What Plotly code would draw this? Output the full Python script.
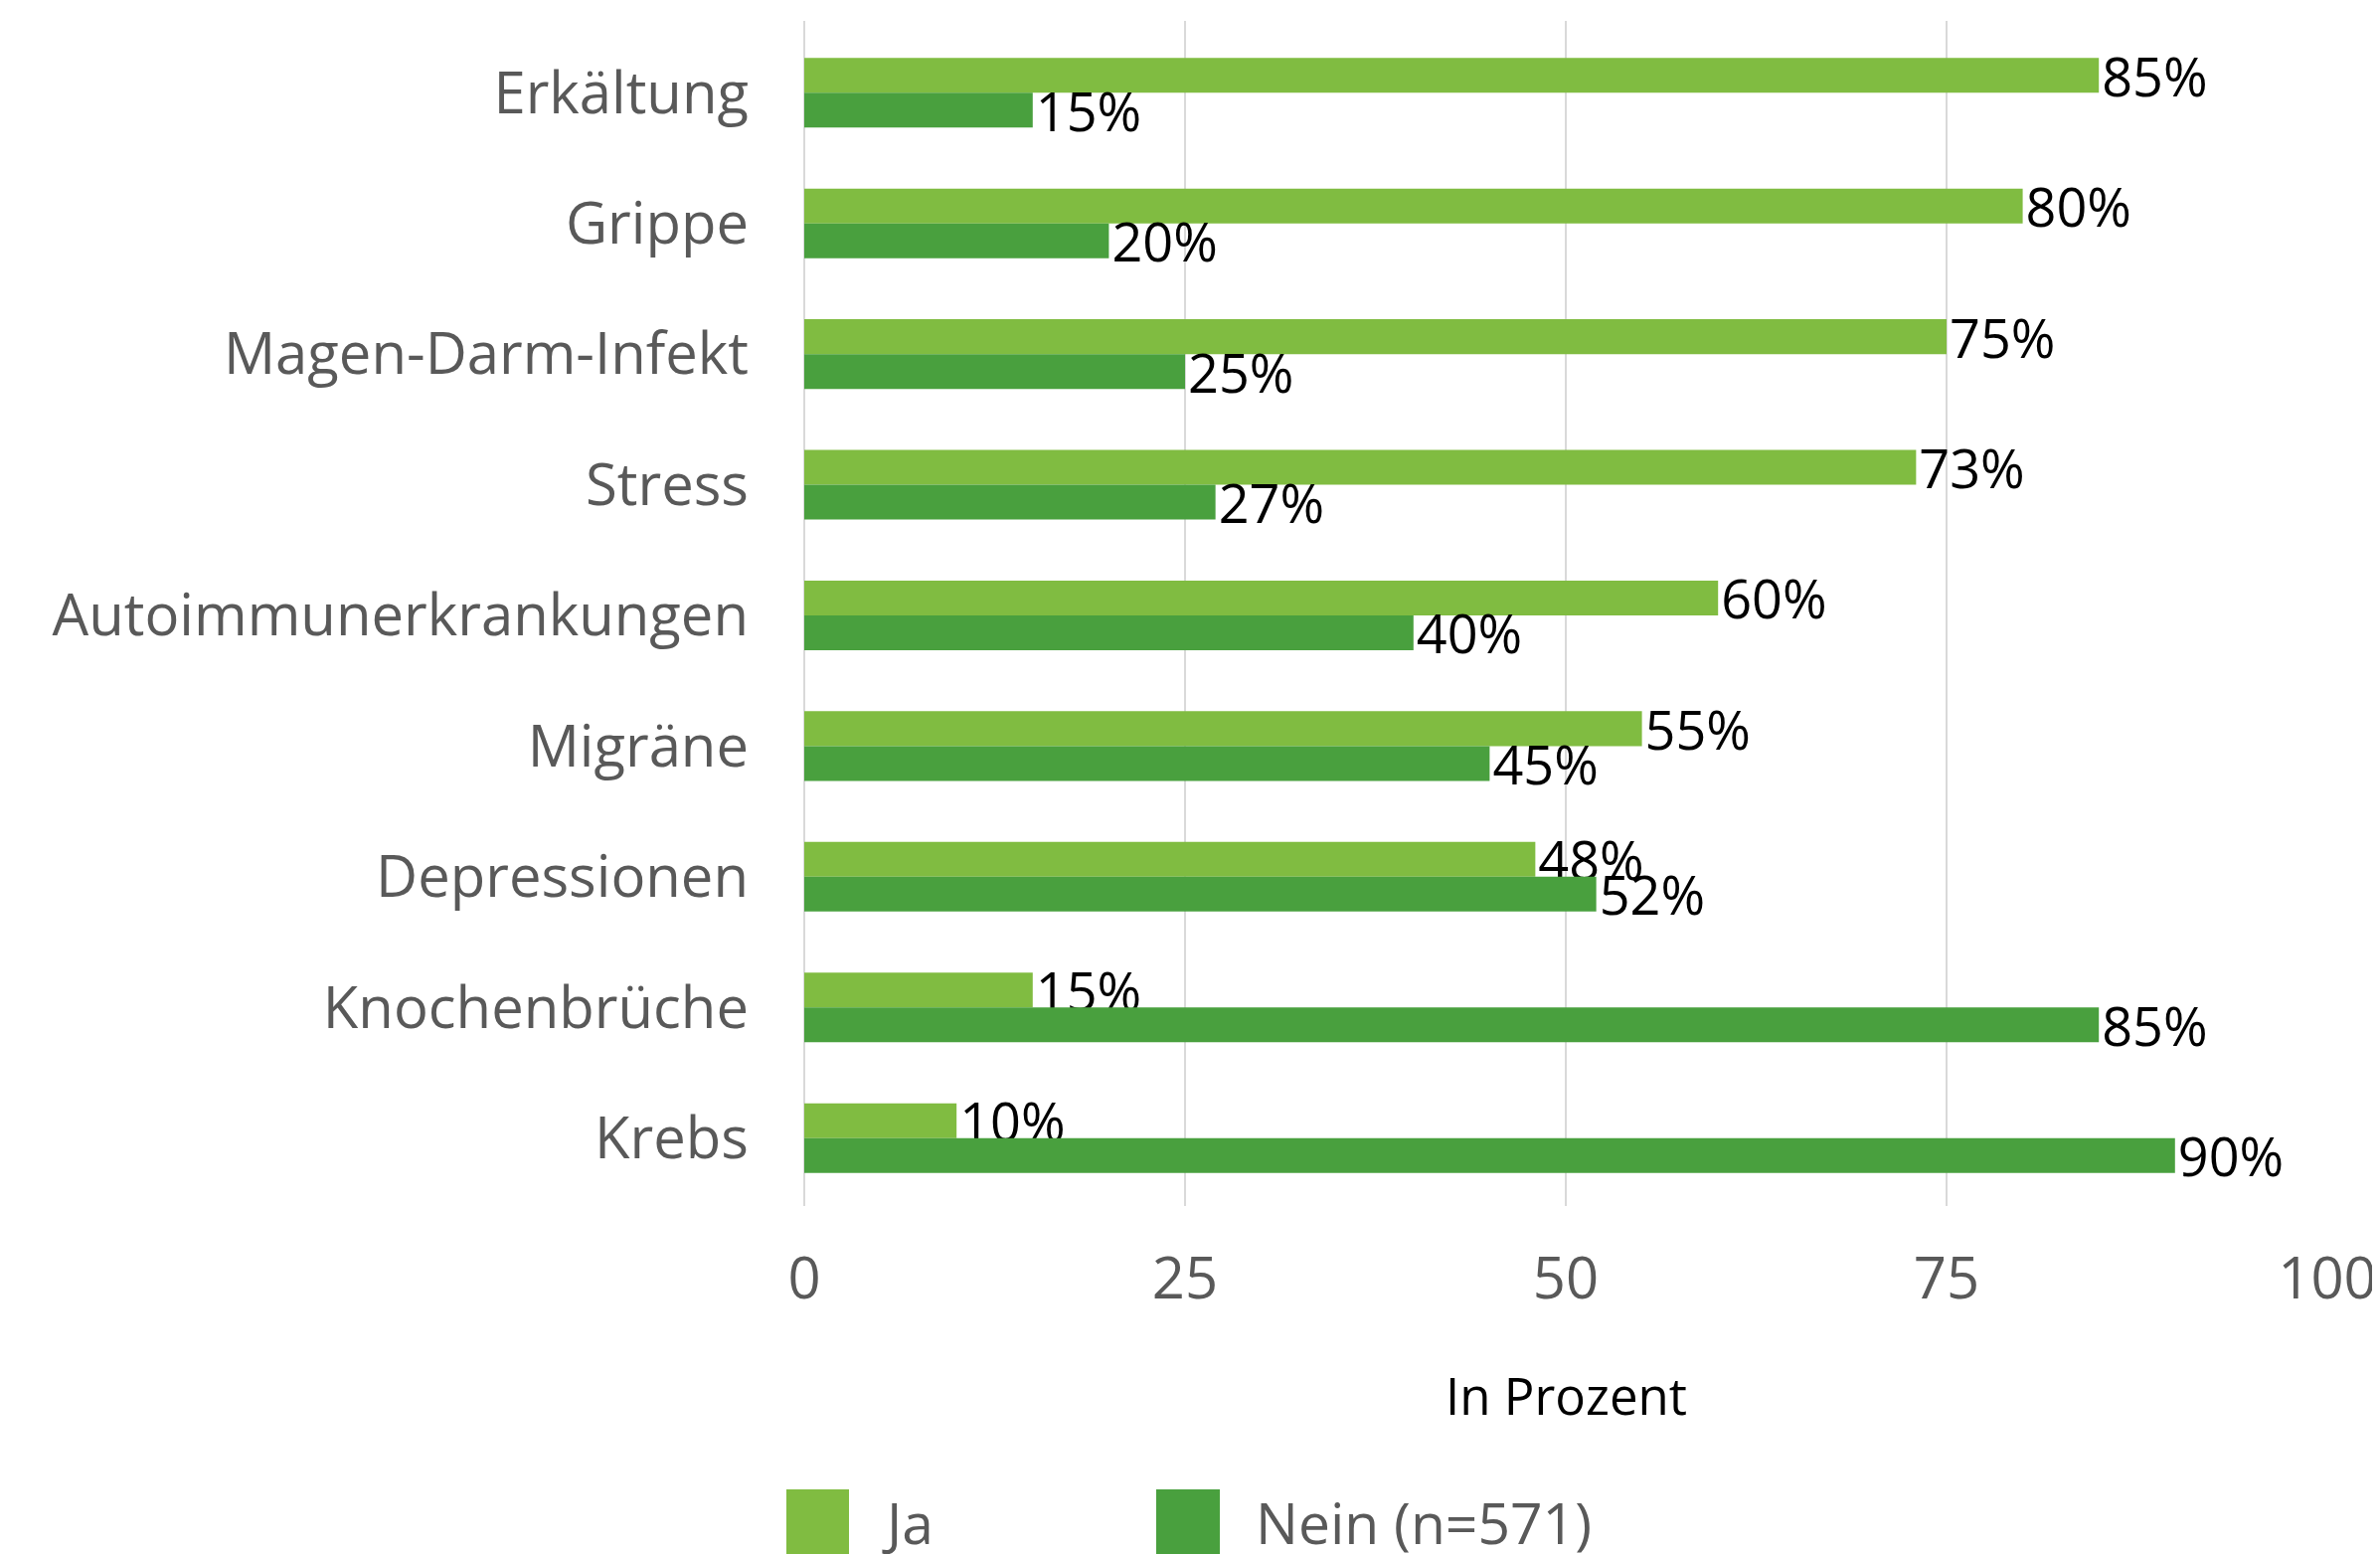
import plotly.graph_objects as go

categories = ["Erkältung", "Grippe", "Magen-Darm-Infekt", "Stress",
              "Autoimmunerkrankungen", "Migräne", "Depressionen",
              "Knochenbrüche", "Krebs"]
ja_values = [85, 80, 75, 73, 60, 55, 48, 15, 10]
nein_values = [15, 20, 25, 27, 40, 45, 52, 85, 90]
series_names = ["Ja", "Nein (n=571)"]
x_ticks = [0, 25, 50, 75, 100]

COL_JA = "#80BC41"
COL_NEIN = "#49A03E"
GREY = "#595959"
FONT = "Open Sans"

# page has an 8px body margin; work in page pixels and convert
OFF = 8
PAGE_W, PAGE_H = 2394, 1563
W, H = PAGE_W - OFF, PAGE_H - OFF
PLOT_X0, PLOT_X1 = 809, 2341   # page px
PLOT_Y0, PLOT_Y1 = 21, 1213    # page px
L = PLOT_X0 - OFF
T = PLOT_Y0 - OFF
R = PAGE_W - PLOT_X1
B = PAGE_H - PLOT_Y1
PW, PH = PLOT_X1 - PLOT_X0, PLOT_Y1 - PLOT_Y0

fig = go.Figure()
for name, vals, col in [(series_names[0], ja_values, COL_JA),
                        (series_names[1], nein_values, COL_NEIN)]:
    fig.add_trace(go.Bar(
        y=categories, x=vals, orientation="h", name=name,
        marker=dict(color=col, line=dict(width=0)),
        texttemplate="%{x}%", textposition="outside",
        textfont=dict(family=FONT, size=54, color="#000000"),
        constraintext="none", cliponaxis=False, showlegend=False,
    ))

def px_x(p):
    return (p - PLOT_X0) / PW

def px_y(p):
    return (PLOT_Y1 - p) / PH

# manual legend
legend_items = [(series_names[0], COL_JA, 791, 854, 885),
                (series_names[1], COL_NEIN, 1163, 1227, 1261)]
for name, col, x0, x1, tx in legend_items:
    fig.add_shape(type="rect", xref="paper", yref="paper",
                  x0=px_x(x0), x1=px_x(x1), y0=px_y(1498), y1=px_y(1600),
                  fillcolor=col, line=dict(width=0), layer="above")
    fig.add_annotation(xref="paper", yref="paper", x=px_x(tx), y=px_y(1531),
                       text=name, showarrow=False, xanchor="left", yanchor="middle",
                       font=dict(family=FONT, size=57, color=GREY))

fig.add_annotation(xref="paper", yref="paper", x=px_x(1575), y=px_y(1403),
                   text="In Prozent", showarrow=False, xanchor="center", yanchor="middle",
                   font=dict(family=FONT, size=51, color="#000000"))

fig.update_layout(
    width=W, height=H,
    margin=dict(l=L, r=R, t=T, b=B, pad=0, autoexpand=False),
    paper_bgcolor="white", plot_bgcolor="white",
    barmode="group", bargap=0.467, bargroupgap=0,
    font=dict(family=FONT, color=GREY),
)
fig.update_xaxes(range=[0, 100], tickvals=x_ticks, ticktext=[str(v) for v in x_ticks],
                 automargin=False,
                 showgrid=True, gridcolor="#D9D9D9", gridwidth=2,
                 zeroline=True, zerolinecolor="#D9D9D9", zerolinewidth=2,
                 showline=False, ticks="", ticklabelstandoff=34,
                 tickfont=dict(family=FONT, size=58, color=GREY))
fig.update_yaxes(range=[8.52, -0.55], showgrid=False, zeroline=False, showline=False,
                 automargin=False, ticks="", ticklabelstandoff=55,
                 tickfont=dict(family=FONT, size=58, color=GREY))

fig.write_html("out.html")
